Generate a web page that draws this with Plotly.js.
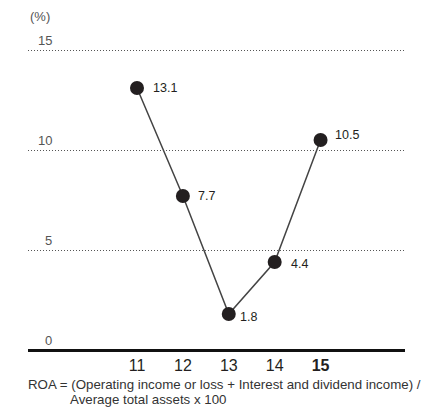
<!DOCTYPE html>
<html>
<head>
<meta charset="utf-8">
<script src="https://cdn.plot.ly/plotly-3.0.1.min.js"></script>
<style>html,body{margin:0;padding:0;background:#fff;}#chart{width:424px;height:414px;}</style>
</head>
<body>
<div id="chart"></div>
<script>
var years = ['11', '12', '13', '14', '15'];
var roa = [13.1, 7.7, 1.8, 4.4, 10.5];
var yTicks = [0, 5, 10, 15];
var tickText = ['11', '12', '13', '14', '<b>15</b>'];
var footLine1 = 'ROA = (Operating income or loss + Interest and dividend income) /';
var footLine2 = 'Average total assets x 100';

var font = 'Liberation Sans, Arial, sans-serif';
var xIdx = years.map(function (_, i) { return i; });

// label offsets (style only)
var lblDx = [14, 13, 9, 14, 12];
var lblDy = [0, 0, -3, -2, 5];

var trace = {
  x: xIdx,
  y: roa,
  type: 'scatter',
  mode: 'lines+markers',
  line: {color: '#444', width: 1.5},
  marker: {color: '#231f20', size: 14},
  cliponaxis: false,
  hoverinfo: 'none'
};

var annotations = yTicks.map(function (v) {
  return {
    xref: 'paper', yref: 'y', x: 0.068, y: v, xanchor: 'right', yanchor: 'bottom',
    text: String(v), showarrow: false, yshift: 0,
    font: {family: font, size: 13, color: '#555'}
  };
});
roa.forEach(function (v, i) {
  annotations.push({
    xref: 'x', yref: 'y', x: xIdx[i], y: v, xanchor: 'left', yanchor: 'middle',
    xshift: lblDx[i], yshift: lblDy[i],
    text: v.toFixed(1), showarrow: false,
    font: {family: font, size: 12.5, color: '#231f20'}
  });
});
annotations.push({
  xref: 'paper', yref: 'paper', x: 0, y: 1, xanchor: 'left', yanchor: 'bottom', yshift: 4,
  text: '(%)', showarrow: false, font: {family: font, size: 13, color: '#555'}
});
annotations.push({
  xref: 'paper', yref: 'paper', x: -0.005, y: 0, xanchor: 'left', yanchor: 'top', yshift: -25,
  text: footLine1, showarrow: false, font: {family: font, size: 13.3, color: '#333'}
});
annotations.push({
  xref: 'paper', yref: 'paper', x: 0.105, y: 0, xanchor: 'left', yanchor: 'top', yshift: -40,
  text: footLine2, showarrow: false, font: {family: font, size: 13.3, color: '#333'}
});

var layout = {
  width: 424, height: 414,
  margin: {l: 28, r: 19, t: 30, b: 64},
  paper_bgcolor: '#fff', plot_bgcolor: '#fff',
  showlegend: false,
  xaxis: {
    range: [-2.375, 5.84],
    tickmode: 'array', tickvals: xIdx, ticktext: tickText,
    showgrid: false, zeroline: false, showline: false,
    ticks: '', ticklen: 0, ticklabelstandoff: 4,
    tickfont: {family: font, size: 16, color: '#231f20'},
    fixedrange: true
  },
  yaxis: {
    range: [0, 16],
    tickvals: [5, 10, 15],
    showticklabels: false,
    showgrid: true, gridcolor: '#555', griddash: '1px,2px', gridwidth: 1,
    zeroline: true, zerolinecolor: '#111', zerolinewidth: 3,
    showline: false,
    fixedrange: true
  },
  annotations: annotations
};

Plotly.newPlot('chart', [trace], layout, {displayModeBar: false, staticPlot: true});
</script>
</body>
</html>
